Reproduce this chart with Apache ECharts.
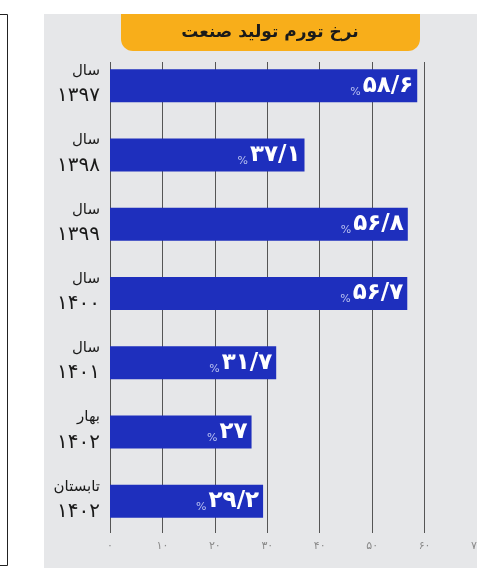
<!DOCTYPE html>
<html>
<head>
<meta charset="utf-8">
<script src="https://cdn.jsdelivr.net/npm/echarts@6/dist/echarts.min.js"></script>
<style>html,body{margin:0;padding:0;background:#fff;overflow:hidden;}#c{width:477px;height:568px;}</style>
</head>
<body>
<div id="c"></div>
<script>
const titleText = 'نرخ تورم تولید صنعت';
const catTop = ['سال', 'سال', 'سال', 'سال', 'سال', 'بهار', 'تابستان'];
const catYear = ['۱۳۹۷', '۱۳۹۸', '۱۳۹۹', '۱۴۰۰', '۱۴۰۱', '۱۴۰۲', '۱۴۰۲'];
const values = [58.6, 37.1, 56.8, 56.7, 31.7, 27, 29.2];
const valueLabels = ['۵۸/۶', '۳۷/۱', '۵۶/۸', '۵۶/۷', '۳۱/۷', '۲۷', '۲۹/۲'];
const tickLabels = ['۰', '۱۰', '۲۰', '۳۰', '۴۰', '۵۰', '۶۰', '۷۰'];

const FONT = 'DejaVu Sans';
const chart = echarts.init(document.getElementById('c'), null, {renderer: 'canvas'});
const categories = catTop.map((t, i) => t + '|' + catYear[i]);

chart.setOption({
  animation: false,
  backgroundColor: '#ffffff',
  graphic: [
    {type: 'rect', z: -10, shape: {x: 44, y: 14, width: 440, height: 560}, style: {fill: '#e6e7e9'}},
    {type: 'rect', z: -10, shape: {x: -10, y: 14.5, width: 17.5, height: 551}, style: {fill: 'none', stroke: '#222', lineWidth: 1}},
    {type: 'rect', z: 10, shape: {x: 121, y: 14, width: 299, height: 37, r: [0, 0, 12, 12]}, style: {fill: '#f8ae1a'}},
    {type: 'text', z: 11, style: {x: 270, y: 33, text: titleText, font: 'bold 17px "' + FONT + '"', fill: '#1a1a1a', textAlign: 'center', textVerticalAlign: 'middle'}}
  ],
  grid: [
    {left: 110, right: 0, top: 62, bottom: 35, containLabel: false, outerBoundsMode: 'none'},
    {left: 110, right: 0, top: 51, height: 485, containLabel: false, outerBoundsMode: 'none'}
  ],
  xAxis: [
    {
      type: 'value', gridIndex: 0, min: 0, max: 70, interval: 10,
      axisLine: {show: false}, axisTick: {show: false},
      splitLine: {show: true, lineStyle: {color: '#555', width: 1}},
      axisLabel: {
        margin: 8, color: '#8a8a8a', fontSize: 11, fontFamily: FONT,
        showMaxLabel: true, hideOverlap: false,
        formatter: v => tickLabels[Math.round(v / 10)]
      }
    },
    {
      type: 'value', gridIndex: 1, min: 0, max: 70, interval: 10, show: false,
      splitLine: {show: false}
    }
  ],
  yAxis: [
    {type: 'value', gridIndex: 0, show: false, min: 0, max: 1, splitLine: {show: false}},
    {
      type: 'category', gridIndex: 1, inverse: true, data: categories,
      axisLine: {show: false}, axisTick: {show: false},
      axisLabel: {
        margin: 10,
        align: 'right',
        padding: [0, 0, 4, 0],
        formatter: v => {
          const p = v.split('|');
          return '{a|' + p[0] + '}\n{b|' + p[1] + '}';
        },
        rich: {
          a: {fontSize: 15, fontFamily: FONT, color: '#1a1a1a', lineHeight: 25, align: 'right'},
          b: {fontSize: 20, fontFamily: FONT, color: '#1a1a1a', lineHeight: 25, align: 'right'}
        }
      }
    }
  ],
  series: [
    {
      type: 'bar', xAxisIndex: 1, yAxisIndex: 1,
      data: values, barWidth: 33,
      itemStyle: {color: '#1e2fbd'},
      label: {
        show: true, position: 'insideRight', distance: 4,
        formatter: p => '{p|%}{n|' + valueLabels[p.dataIndex] + '}',
        rich: {
          p: {fontSize: 11, fontFamily: FONT, color: '#b9c1f0', verticalAlign: 'bottom', padding: [10, 2, 0, 0]},
          n: {fontSize: 23, fontFamily: FONT, fontWeight: 'bold', color: '#ffffff'}
        }
      }
    }
  ]
});
</script>
</body>
</html>
